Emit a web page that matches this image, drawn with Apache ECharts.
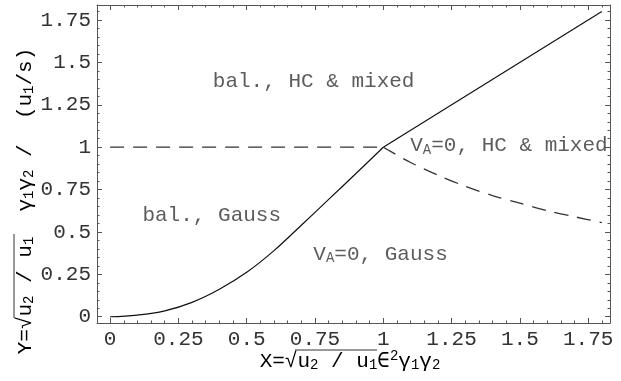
<!DOCTYPE html>
<html>
<head>
    <meta charset="utf-8">
    <title>Phase diagram</title>
    <script src="https://cdn.jsdelivr.net/npm/echarts@6/dist/echarts.min.js"></script>
</head>
<body style="margin: 0">
<div id="container" style="width: 621px; height: 381px"></div>
<script>
    // lower boundary (solid curve)
    var lowX = [0, 0.1, 0.2, 0.3, 0.4, 0.5, 0.6, 0.7, 0.8, 0.9, 1.0];
    var lowY = [0, 0.01, 0.035, 0.085, 0.162, 0.262, 0.39, 0.54, 0.692, 0.845, 1.0];
    // upper straight branch
    var highX = [1.0, 1.8];
    var highY = [1.0, 1.8];
    // dashed lines
    var flatX = [0, 1.0];
    var flatY = [1.0, 1.0];
    var dropX = [1.0, 1.1, 1.2, 1.3, 1.4, 1.5, 1.6, 1.7, 1.8];
    var dropY = [1.0, 0.91, 0.835, 0.77, 0.715, 0.67, 0.625, 0.59, 0.555];
    // ticks
    var majorTicks = [0, 0.25, 0.5, 0.75, 1, 1.25, 1.5, 1.75];
    // region labels
    var regionNames = ['bal., HC & mixed', 'bal., Gauss', 'V_A=0, Gauss', 'V_A=0, HC & mixed'];
    var regionX = [0.745, 0.372, 0.99, 1.46];
    var regionY = [1.386, 0.6, 0.37, 1.01];

    var MONO = '"Liberation Mono", "DejaVu Sans Mono", monospace';
    var TXT = '#333';
    var FRAME = '#555';

    var xMin = -0.048, xMax = 1.83;
    var yMin = -0.037, yMax = 1.839;

    function pairs(xs, ys) {
        return xs.map(function (x, i) { return [x, ys[i]]; });
    }

    function minorTicks(lo, hi) {
        var out = [];
        for (var k = -2; k <= 40; k++) {
            var v = Math.round(k * 5) / 100;
            if (k % 5 !== 0 && v >= lo && v <= hi) out.push(v);
        }
        return out;
    }

    // one axis per side for the frame + major ticks, one more for minor ticks
    function frameAxis(pos, lo, hi, labels, minor) {
        var ax = {
            type: 'value',
            position: pos,
            min: lo,
            max: hi,
            splitLine: { show: false },
            axisLine: { show: !minor, onZero: false, lineStyle: { color: FRAME, width: 1 } },
            axisTick: {
                show: true,
                inside: true,
                length: minor ? 2.5 : 5,
                customValues: minor ? minorTicks(lo, hi) : majorTicks,
                lineStyle: { color: FRAME, width: 1 }
            },
            axisLabel: { show: false }
        };
        if (labels) {
            ax.axisLabel = {
                show: true,
                customValues: majorTicks,
                fontFamily: MONO,
                fontSize: 21,
                color: TXT,
                margin: 6
            };
        }
        return ax;
    }

    var richText = {
        m: { fontFamily: MONO, fontSize: 21, color: TXT, lineHeight: 23, verticalAlign: 'middle' },
        s: { fontFamily: MONO, fontSize: 14, color: TXT, lineHeight: 14, verticalAlign: 'bottom' },
        p: { fontFamily: MONO, fontSize: 14, color: TXT, lineHeight: 14, verticalAlign: 'top' }
    };

    function toRich(name) {
        var parts = name.split('V_A');
        if (parts.length === 1) return '{m|' + name + '}';
        return '{m|V}{s|A}{m|' + parts[1] + '}';
    }

    var dom = document.getElementById('container');
    var myChart = echarts.init(dom, null, { renderer: 'canvas' });

    var lineBase = { type: 'line', showSymbol: false, symbol: 'none', animation: false, silent: true };

    var option = {
        backgroundColor: '#fff',
        animation: false,
        grid: { left: 97, right: 11, top: 5, bottom: 58 },
        xAxis: [
            frameAxis('bottom', xMin, xMax, true, false),
            frameAxis('bottom', xMin, xMax, false, true),
            frameAxis('top', xMin, xMax, false, false),
            frameAxis('top', xMin, xMax, false, true)
        ],
        yAxis: [
            frameAxis('left', yMin, yMax, true, false),
            frameAxis('left', yMin, yMax, false, true),
            frameAxis('right', yMin, yMax, false, false),
            frameAxis('right', yMin, yMax, false, true)
        ],
        series: [
            Object.assign({}, lineBase, {
                data: pairs(lowX, lowY), smooth: 0.4,
                lineStyle: { color: '#111', width: 1.2 }
            }),
            Object.assign({}, lineBase, {
                data: pairs(highX, highY),
                lineStyle: { color: '#111', width: 1.2 }
            }),
            Object.assign({}, lineBase, {
                data: pairs(flatX, flatY),
                lineStyle: { color: '#333', width: 1.3, type: [14, 9] }
            }),
            Object.assign({}, lineBase, {
                data: pairs(dropX, dropY), smooth: 0.3,
                lineStyle: { color: '#333', width: 1.3, type: [14, 9] }
            }),
            {
                type: 'scatter',
                symbolSize: 0,
                silent: true,
                data: regionNames.map(function (n, i) { return { value: [regionX[i], regionY[i]], name: n }; }),
                label: {
                    show: true,
                    position: 'inside',
                    formatter: function (p) { return toRich(p.name); },
                    rich: richText
                }
            }
        ],
        graphic: [
            {
                type: 'text', x: 350, y: 361, silent: true,
                style: {
                    text: '{m|X=√u}{s|2}{m| / u}{s|1}{m|∈}{p|2}{m|γ}{s|1}{m|γ}{s|2}',
                    rich: richText, align: 'center', verticalAlign: 'middle'
                }
            },
            {
                type: 'text', x: 25, y: 201, rotation: Math.PI / 2, silent: true,
                style: {
                    text: '{m|Y=√u}{s|2}{m| / u}{s|1}{m|  γ}{s|1}{m|γ}{s|2}{m| /  (u}{s|1}{m|/s)}',
                    rich: richText, align: 'center', verticalAlign: 'middle'
                }
            },
            { type: 'line', silent: true, shape: { x1: 295, y1: 350, x2: 377, y2: 350 }, style: { stroke: TXT, lineWidth: 1 } },
            { type: 'line', silent: true, shape: { x1: 14, y1: 234, x2: 14, y2: 318 }, style: { stroke: TXT, lineWidth: 1 } }
        ]
    };

    myChart.setOption(option);
    window.addEventListener('resize', myChart.resize);
</script>
</body>
</html>
